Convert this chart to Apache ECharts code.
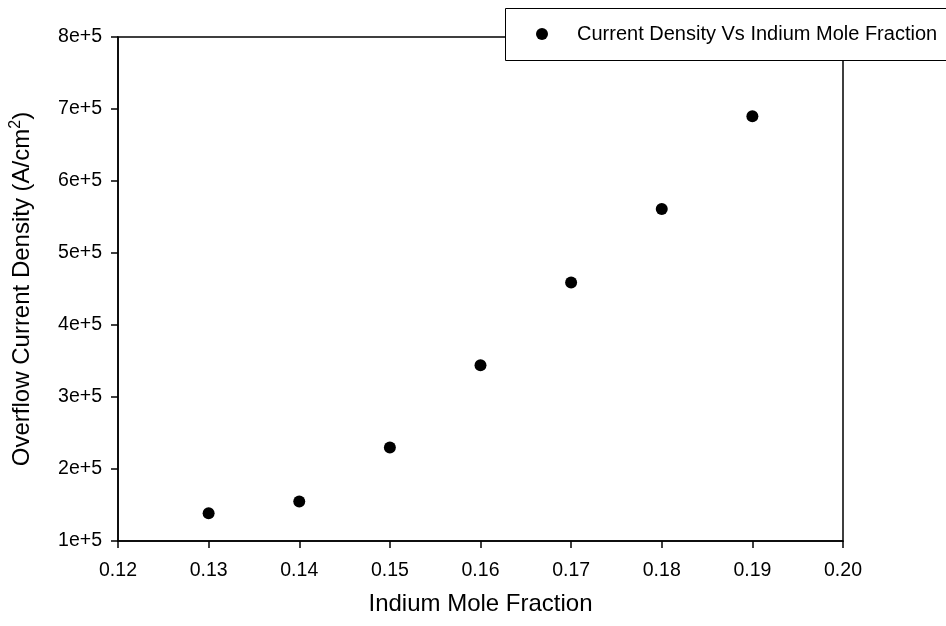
<!DOCTYPE html>
<html>
<head>
<meta charset="utf-8">
<script src="https://cdn.jsdelivr.net/npm/echarts@6/dist/echarts.min.js"></script>
<style>
  * { margin: 0; padding: 0; }
  #chart-container { width: 946px; height: 626px; background: #fff; }
</style>
</head>
<body>
<div id="chart-container"></div>
<script>
  // Indium mole fraction vs overflow current density
  var fractions = [0.13, 0.14, 0.15, 0.16, 0.17, 0.18, 0.19]
  var density = [138500, 155000, 230000, 344000, 459000, 561000, 690000]
  var seriesName = 'Current Density Vs Indium Mole Fraction'

  var chartDom = document.getElementById('chart-container')
  var myChart = echarts.init(chartDom, null, { renderer: 'canvas' })
  var font = 'Liberation Sans, Arial, sans-serif'

  var points = fractions.map(function (f, i) {
    return [f, density[i]]
  })

  var option = {
    backgroundColor: '#fff',
    animation: false,
    textStyle: { fontFamily: font, color: '#000' },
    grid: {
      left: 118,
      right: 103,
      top: 37,
      bottom: 85,
      show: true,
      borderColor: '#000',
      borderWidth: 1.5,
    },
    // legend frame runs off the right edge of the picture
    graphic: [
      {
        type: 'rect',
        z: 3,
        shape: { x: 505.5, y: 8.5, width: 480, height: 52 },
        style: { fill: '#fff', stroke: '#000', lineWidth: 1 },
      },
    ],
    legend: {
      data: [{ name: seriesName, icon: 'circle', itemStyle: { color: '#000', opacity: 1 } }],
      left: 505,
      top: 8,
      z: 5,
      padding: [16, 10, 16, 31],
      itemWidth: 60,
      itemHeight: 12,
      textStyle: { fontSize: 20, color: '#000', fontFamily: font },
    },
    xAxis: {
      type: 'value',
      min: 0.12,
      max: 0.2,
      interval: 0.01,
      name: 'Indium Mole Fraction',
      nameLocation: 'middle',
      nameGap: 51,
      nameTextStyle: { fontSize: 24, color: '#000', fontFamily: font },
      axisLine: { show: true, lineStyle: { color: '#000', width: 1.5 } },
      axisTick: { show: true, length: 7, lineStyle: { color: '#000', width: 1.5 } },
      axisLabel: {
        fontSize: 19.5,
        color: '#000',
        margin: 20,
        formatter: function (v) { return v.toFixed(2) },
      },
      splitLine: { show: false },
    },
    yAxis: {
      type: 'value',
      min: 100000,
      max: 800000,
      interval: 100000,
      name: 'Overflow Current Density (A/cm{sup|2})',
      nameLocation: 'middle',
      nameRotate: 90,
      nameGap: 82,
      nameTextStyle: {
        fontSize: 24,
        color: '#000',
        fontFamily: font,
        rich: {
          sup: { fontSize: 16, verticalAlign: 'top', padding: [0, 0, 12, 0], color: '#000', fontFamily: font },
        },
      },
      axisLine: { show: true, lineStyle: { color: '#000', width: 1.5 } },
      axisTick: { show: true, length: 7, lineStyle: { color: '#000', width: 1.5 } },
      axisLabel: {
        fontSize: 19.5,
        color: '#000',
        margin: 16,
        formatter: function (v) { return Math.round(v / 100000) + 'e+5' },
      },
      splitLine: { show: false },
    },
    series: [
      {
        name: seriesName,
        type: 'scatter',
        symbol: 'circle',
        symbolSize: 12,
        itemStyle: { color: '#000', opacity: 1 },
        data: points,
      },
    ],
  }
  myChart.setOption(option)
</script>
</body>
</html>
